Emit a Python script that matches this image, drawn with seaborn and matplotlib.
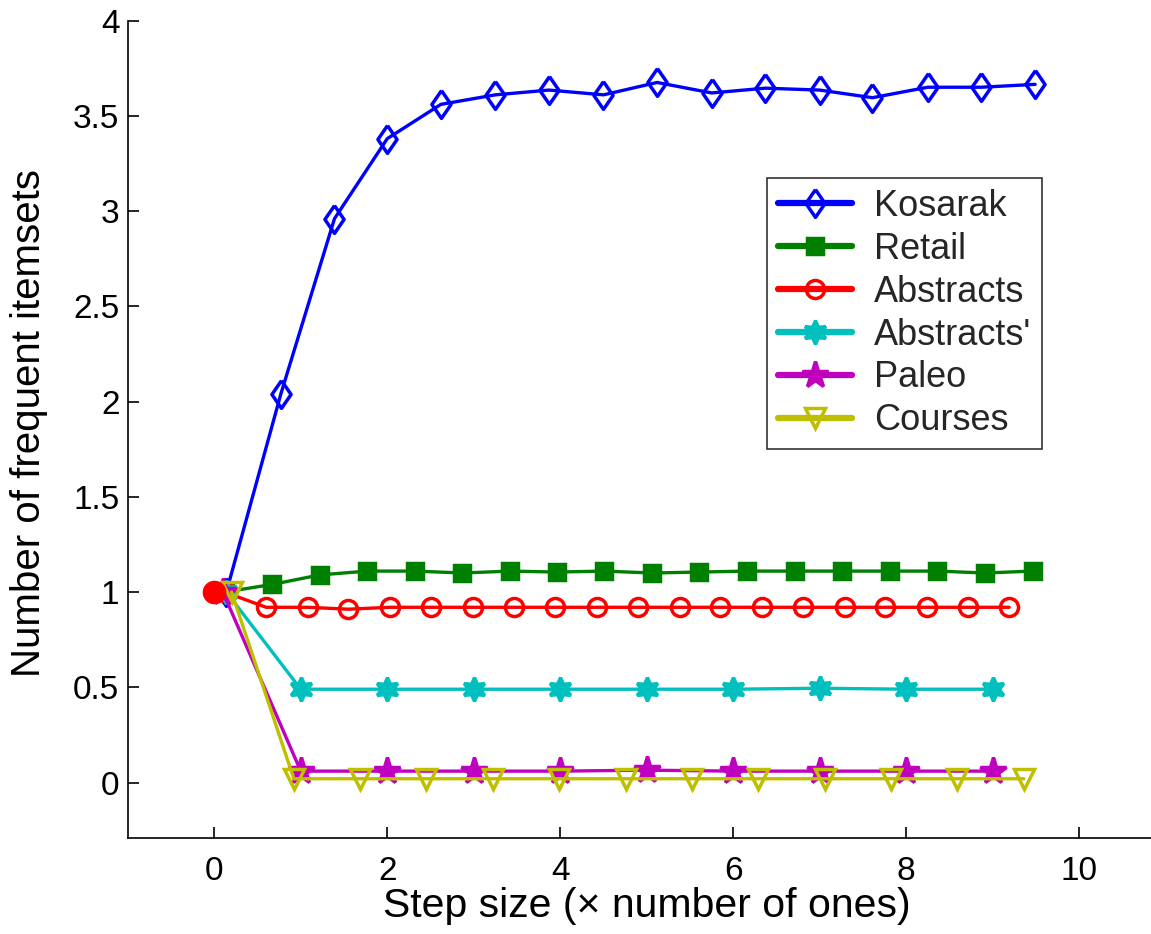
import matplotlib
matplotlib.use("Agg")
import matplotlib.pyplot as plt
import numpy as np
import seaborn as sns

# Data
kosarak_x = [0.14, 0.77, 1.39, 2.0, 2.62, 3.25, 3.87, 4.5, 5.12, 5.75, 6.37, 7.0, 7.61, 8.25, 8.87, 9.49]
kosarak_y = [1.0, 2.04, 2.96, 3.38, 3.56, 3.61, 3.635, 3.61, 3.675, 3.62, 3.645, 3.635, 3.595, 3.65, 3.65, 3.665]

retail_x = [0.12, 0.67, 1.22, 1.77, 2.32, 2.87, 3.42, 3.96, 4.51, 5.06, 5.61, 6.16, 6.71, 7.26, 7.81, 8.36, 8.91, 9.46]
retail_y = [1.0, 1.04, 1.09, 1.11, 1.11, 1.10, 1.11, 1.105, 1.11, 1.10, 1.105, 1.11, 1.11, 1.11, 1.11, 1.11, 1.10, 1.11]

abstracts_x = [0.12, 0.60, 1.08, 1.55, 2.03, 2.51, 2.99, 3.46, 3.94, 4.42, 4.90, 5.38,
               5.85, 6.33, 6.81, 7.29, 7.76, 8.24, 8.72, 9.19]
abstracts_y = [1.0, 0.92, 0.92, 0.91, 0.92, 0.92, 0.92, 0.92, 0.92, 0.92, 0.92, 0.92,
               0.92, 0.92, 0.92, 0.92, 0.92, 0.92, 0.92, 0.92]

abstracts2_x = [0.14, 1.0, 2.0, 3.0, 4.0, 5.0, 6.0, 7.0, 8.0, 9.0]
abstracts2_y = [1.0, 0.49, 0.49, 0.49, 0.49, 0.49, 0.49, 0.495, 0.49, 0.49]

paleo_x = [0.1, 1.0, 2.0, 3.0, 4.0, 5.0, 6.0, 7.0, 8.0, 9.0]
paleo_y = [1.0, 0.06, 0.06, 0.06, 0.06, 0.065, 0.06, 0.06, 0.06, 0.06]

courses_x = [0.2, 0.92, 1.69, 2.45, 3.22, 3.99, 4.76, 5.52, 6.29, 7.06, 7.82, 8.59, 9.36]
courses_y = [1.0, 0.02, 0.02, 0.02, 0.02, 0.02, 0.02, 0.02, 0.02, 0.02, 0.02, 0.02, 0.02]

origin_x = [0.0]
origin_y = [1.0]

y_ticks = [0, 0.5, 1, 1.5, 2, 2.5, 3, 3.5, 4]
y_tick_labels = ["0", "0.5", "1", "1.5", "2", "2.5", "3", "3.5", "4"]
x_ticks = [0, 2, 4, 6, 8, 10]
x_tick_labels = ["0", "2", "4", "6", "8", "10"]

# tall MATLAB-style diamond
tall_diamond = [(0, 1), (0.69, 0), (0, -1), (-0.69, 0), (0, 1)]

# (label, x, y, color, marker, size, filled)
series = [
    ("Kosarak", kosarak_x, kosarak_y, (0, 0, 1), tall_diamond, 20, False),
    ("Retail", retail_x, retail_y, (0, 0.5, 0), "s", 11, True),
    ("Abstracts", abstracts_x, abstracts_y, (1, 0, 0), "o", 13, False),
    ("Abstracts'", abstracts2_x, abstracts2_y, (0, 0.75, 0.75), (6, 1, 0), 17, True),
    ("Paleo", paleo_x, paleo_y, (0.75, 0, 0.75), "*", 20, True),
    ("Courses", courses_x, courses_y, (0.75, 0.75, 0), "v", 15, False),
]

sns.set_style("ticks")
plt.rcParams["font.family"] = ["Liberation Sans", "DejaVu Sans"]

fig = plt.figure(figsize=(11.51, 9.34), dpi=100)
ax = fig.add_axes([0.111, 0.103, 0.889, 0.875])

for label, xs, ys, color, marker, size, filled in series:
    sns.lineplot(x=xs, y=ys, ax=ax, color=color, linewidth=2.4, marker=marker,
                 markersize=size, markeredgecolor=color,
                 markerfacecolor=color if filled else "none",
                 markeredgewidth=2.5, label=label, sort=False)

ax.plot(origin_x, origin_y, linestyle="none", marker="o", markersize=16,
        color=(1, 0, 0), zorder=10)

ax.set_xlim(-1, 10.83)
ax.set_ylim(-0.29, 4)
ax.set_xticks(x_ticks)
ax.set_xticklabels(x_tick_labels)
ax.set_yticks(y_ticks)
ax.set_yticklabels(y_tick_labels)
ax.tick_params(direction="in", length=8, width=1.2, labelsize=24, colors="black")
ax.tick_params(axis="y", pad=6)
ax.tick_params(axis="x", pad=13)
for s in ["top", "right"]:
    ax.spines[s].set_visible(False)
for s in ["left", "bottom"]:
    ax.spines[s].set_linewidth(1.2)
    ax.spines[s].set_color("black")

ax.set_xlabel("Step size (\u00d7 number of ones)", fontsize=29.5, color="black")
ax.set_ylabel("Number of frequent itemsets", fontsize=29, color="black")
ax.xaxis.set_label_coords(0.507, -0.06)
ax.yaxis.set_label_coords(-0.078, 0.507)

leg = ax.legend(loc="upper left", bbox_to_anchor=(0.625, 0.8075), borderaxespad=0,
                fontsize=26, frameon=True, fancybox=False, edgecolor="black",
                handlelength=2.05, handletextpad=0.6, labelspacing=0.22,
                borderpad=0.3)
leg.get_frame().set_linewidth(1.2)
for h in leg.get_lines():
    h.set_linewidth(4.5)

fig.savefig("out.png", dpi=100)
